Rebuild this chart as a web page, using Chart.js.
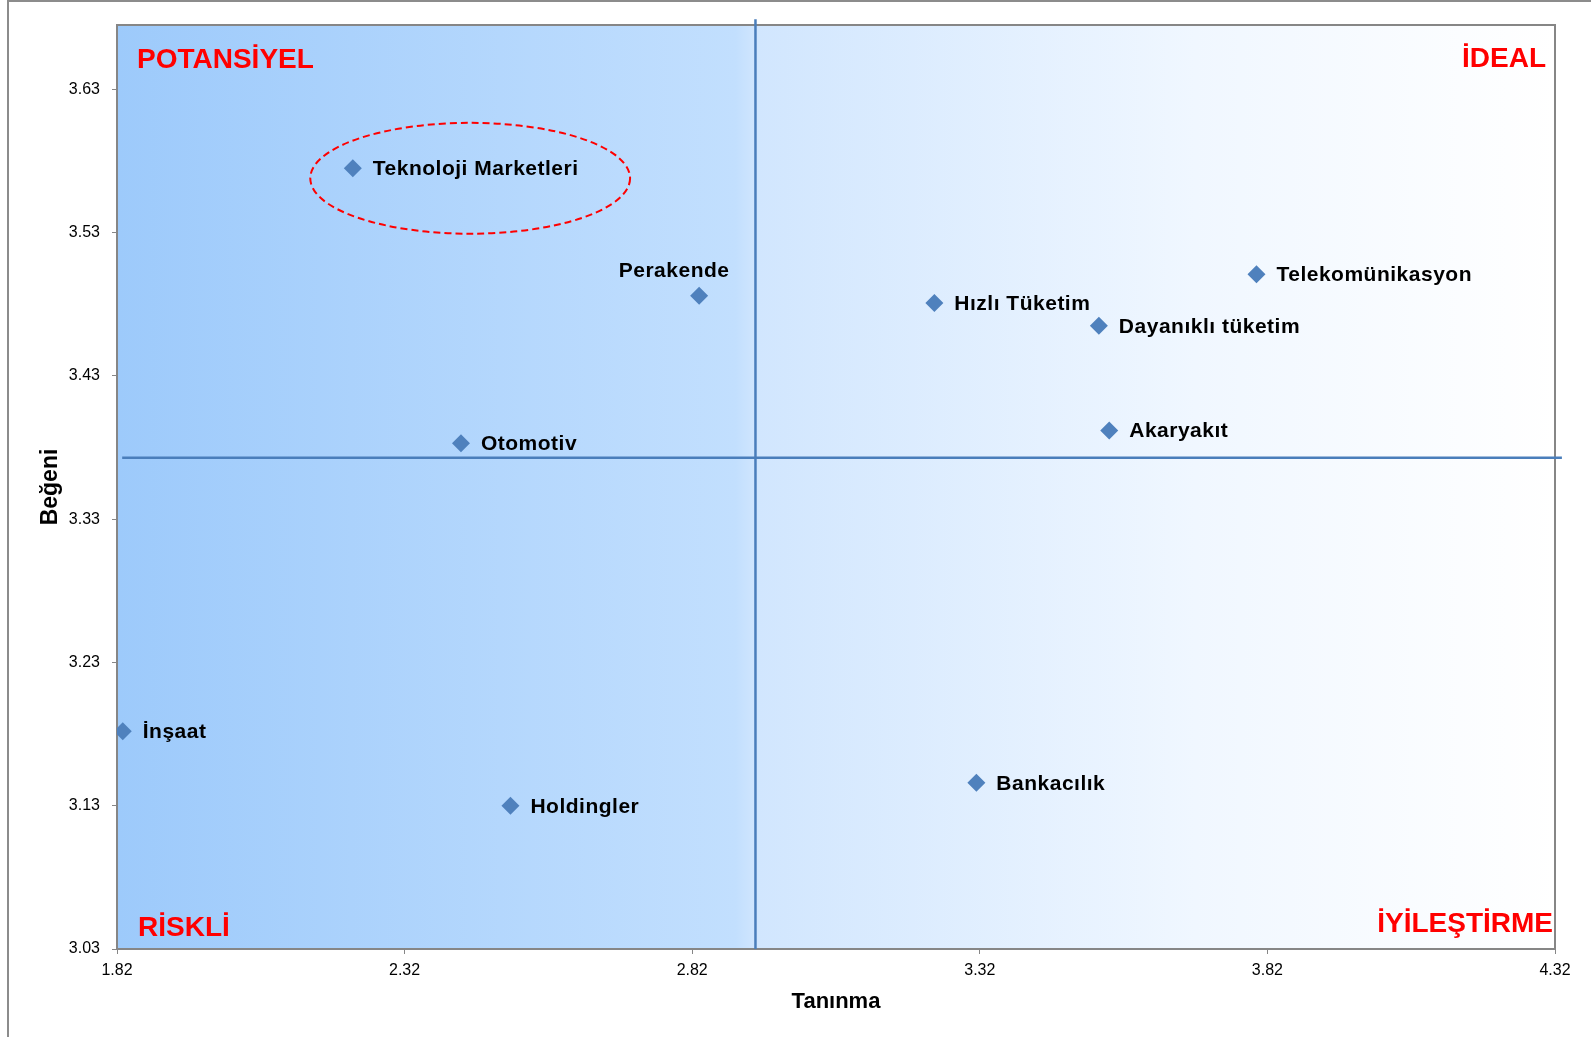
<!DOCTYPE html>
<html>
<head>
<meta charset="utf-8">
<script src="https://cdn.jsdelivr.net/npm/chart.js@4.4.1/dist/chart.umd.min.js"></script>
<style>
  html, body { margin: 0; padding: 0; background: #fff; }
  #wrap { position: relative; width: 1591px; height: 1037px; }
</style>
</head>
<body>
<div id="wrap"><canvas id="chart"></canvas></div>
<script>
// sectors: awareness (Tanınma) vs. liking (Beğeni)
const sectors = ['Teknoloji Marketleri', 'Perakende', 'Hızlı Tüketim', 'Telekomünikasyon', 'Dayanıklı tüketim',
  'Akaryakıt', 'Otomotiv', 'İnşaat', 'Holdingler', 'Bankacılık']
const tanima = [2.230, 2.832, 3.241, 3.801, 3.527, 3.545, 2.418, 1.830, 2.504, 3.314]
const begeni = [3.575, 3.486, 3.481, 3.501, 3.465, 3.392, 3.383, 3.182, 3.130, 3.146]

const xTicks = [1.82, 2.32, 2.82, 3.32, 3.82, 4.32]
const yTicks = [3.03, 3.13, 3.23, 3.33, 3.43, 3.53, 3.63]

// average lines splitting the four quadrants
const meanTanima = 2.93
const meanBegeni = 3.373
const vLineY = [3.03, 3.679]
const hLineX = [1.829, 4.332]

// dashed ring around the highlighted sector
const ringCenter = [2.434, 3.568]
const ringRadius = [0.278, 0.0387]

const quadrants = { topLeft: 'POTANSİYEL', topRight: 'İDEAL', bottomLeft: 'RİSKLİ', bottomRight: 'İYİLEŞTİRME' }
const labelsAbove = ['Perakende']

const FONT = 'Arial, "Liberation Sans", sans-serif'
const LINE_BLUE = '#4A7EBB'
const GRID_GRAY = '#868686'

const plotBackground = {
  id: 'plotBackground',
  beforeDraw(chart) {
    const { ctx, chartArea: a } = chart
    ctx.save()
    ctx.strokeStyle = '#8c8c8c'
    ctx.lineWidth = 2
    ctx.beginPath()
    ctx.moveTo(8, chart.height)
    ctx.lineTo(8, 1)
    ctx.lineTo(chart.width, 1)
    ctx.stroke()

    const g = ctx.createLinearGradient(a.left, 0, a.right, 0)
    g.addColorStop(0, '#9DCAFB')
    g.addColorStop(0.43, '#C2DFFE')
    g.addColorStop(0.445, '#D1E6FE')
    g.addColorStop(0.75, '#F0F7FF')
    g.addColorStop(1, '#FFFFFF')
    ctx.fillStyle = g
    ctx.fillRect(a.left, a.top, a.width, a.height)
    ctx.restore()
  },
  beforeDatasetsDraw(chart) {
    const { ctx, chartArea: a } = chart
    ctx.save()
    ctx.strokeStyle = GRID_GRAY
    ctx.lineWidth = 2
    ctx.beginPath()
    ctx.moveTo(a.left, a.top)
    ctx.lineTo(a.right, a.top)
    ctx.lineTo(a.right, a.bottom)
    ctx.stroke()
    ctx.restore()
  }
}

const annotations = {
  id: 'annotations',
  afterDatasetsDraw(chart) {
    const { ctx, chartArea: a, scales } = chart
    const x = scales.x, y = scales.y
    ctx.save()

    // quadrant names
    ctx.fillStyle = '#FF0000'
    ctx.font = 'bold 28px ' + FONT
    ctx.textBaseline = 'alphabetic'
    ctx.textAlign = 'left'
    ctx.fillText(quadrants.topLeft, a.left + 20, a.top + 43)
    ctx.fillText(quadrants.bottomLeft, a.left + 21, a.bottom - 13)
    ctx.textAlign = 'right'
    ctx.fillText(quadrants.topRight, a.right - 9, a.top + 42)
    ctx.fillText(quadrants.bottomRight, a.right - 2, a.bottom - 17)

    // point labels
    const meta = chart.getDatasetMeta(0)
    ctx.fillStyle = '#000'
    ctx.font = 'bold 21px ' + FONT
    ctx.letterSpacing = '0.5px'
    ctx.textBaseline = 'middle'
    meta.data.forEach((pt, i) => {
      const name = sectors[i]
      if (labelsAbove.includes(name)) {
        ctx.textAlign = 'center'
        ctx.fillText(name, pt.x - 25, pt.y - 25)
      } else {
        ctx.textAlign = 'left'
        ctx.fillText(name, pt.x + 20, pt.y + 1)
      }
    })

    // dashed ring
    const cx = x.getPixelForValue(ringCenter[0])
    const cy = y.getPixelForValue(ringCenter[1])
    const rx = x.getPixelForValue(ringCenter[0] + ringRadius[0]) - cx
    const ry = cy - y.getPixelForValue(ringCenter[1] + ringRadius[1])
    ctx.strokeStyle = '#FF0000'
    ctx.lineWidth = 2
    ctx.setLineDash([7, 4])
    ctx.beginPath()
    ctx.ellipse(cx, cy, rx, ry, 0, 0, Math.PI * 2)
    ctx.stroke()
    ctx.restore()
  }
}

new Chart(document.getElementById('chart'), {
  type: 'scatter',
  data: {
    datasets: [
      {
        label: 'Sektörler',
        data: tanima.map((v, i) => ({ x: v, y: begeni[i] })),
        pointStyle: 'rectRot',
        pointRadius: 9,
        borderWidth: 0,
        backgroundColor: '#4F81BD',
        borderColor: '#4F81BD',
        order: 0
      },
      {
        label: 'Ortalama Tanınma',
        data: vLineY.map(v => ({ x: meanTanima, y: v })),
        showLine: true,
        pointRadius: 0,
        borderColor: LINE_BLUE,
        borderWidth: 2.5,
        clip: false,
        order: 1
      },
      {
        label: 'Ortalama Beğeni',
        data: hLineX.map(v => ({ x: v, y: meanBegeni })),
        showLine: true,
        pointRadius: 0,
        borderColor: LINE_BLUE,
        borderWidth: 2.5,
        clip: false,
        order: 1
      }
    ]
  },
  options: {
    responsive: true,
    maintainAspectRatio: false,
    animation: false,
    events: [],
    layout: { padding: { left: 10, top: 25, right: 36, bottom: 10 } },
    plugins: {
      legend: { display: false },
      tooltip: { enabled: false }
    },
    scales: {
      x: {
        type: 'linear',
        min: 1.82,
        max: 4.32,
        afterBuildTicks: s => { s.ticks = xTicks.map(value => ({ value })) },
        afterFit: s => { s.height = 78 },
        ticks: {
          callback: v => v.toFixed(2),
          color: '#000',
          font: { family: FONT, size: 16 },
          padding: 7,
          maxRotation: 0
        },
        grid: { drawOnChartArea: false, tickLength: 5, color: GRID_GRAY },
        border: { color: GRID_GRAY, width: 2 },
        title: {
          display: true,
          text: 'Tanınma',
          color: '#000',
          font: { family: FONT, size: 22, weight: 'bold' },
          padding: { top: 4, bottom: 12 }
        }
      },
      y: {
        type: 'linear',
        min: 3.03,
        max: 3.675,
        afterBuildTicks: s => { s.ticks = yTicks.map(value => ({ value })) },
        afterFit: s => { s.width = 107 },
        ticks: {
          callback: v => v.toFixed(2),
          color: '#000',
          font: { family: FONT, size: 16 },
          padding: 12
        },
        grid: { drawOnChartArea: false, tickLength: 5, color: GRID_GRAY },
        border: { color: GRID_GRAY, width: 2 },
        title: {
          display: true,
          text: 'Beğeni',
          color: '#000',
          font: { family: FONT, size: 23, weight: 'bold' },
          padding: { top: 27, bottom: 4 }
        }
      }
    }
  },
  plugins: [plotBackground, annotations]
})
</script>
</body>
</html>
